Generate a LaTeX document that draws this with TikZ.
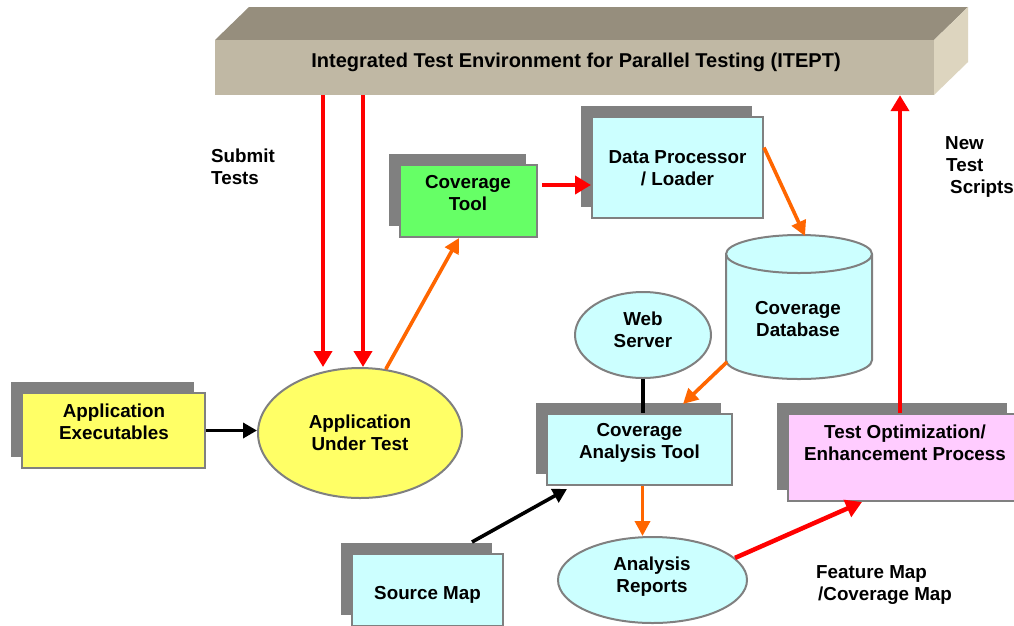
\documentclass[tikz,border=0pt]{standalone}
\usepackage{fontspec}
\setmainfont{Liberation Sans}
\usetikzlibrary{arrows.meta,shapes.geometric,calc}
\definecolor{shadowgray}{HTML}{808080}
\definecolor{bordergray}{HTML}{808080}
\definecolor{yellowfill}{HTML}{FFFF66}
\definecolor{greenfill}{HTML}{66FF66}
\definecolor{cyanfill}{HTML}{CCFFFF}
\definecolor{pinkfill}{HTML}{FFCCFF}
\definecolor{arrred}{HTML}{FF0000}
\definecolor{arrorange}{HTML}{FF6600}
\definecolor{bannertop}{HTML}{968E7D}
\definecolor{bannerfront}{HTML}{C0B8A4}
\definecolor{bannerside}{HTML}{DDD5BF}
\begin{document}
\begin{tikzpicture}[x=1pt,y=-1pt,
  txt/.style={font=\bfseries\fontsize{18.8}{22}\selectfont, align=center, inner sep=0pt},
  box/.style={rectangle, draw=bordergray, line width=2pt, inner sep=0pt,
    preaction={fill=shadowgray, draw=none, transform canvas={xshift=-11pt,yshift=11pt}}},
  ell/.style={ellipse, draw=bordergray, line width=2pt, inner sep=0pt},
  redarr/.style={draw=arrred, line width=4.5pt, -{Triangle[length=16pt,width=18pt]}},
  orarr/.style={draw=arrorange, line width=3.6pt, -{Triangle[length=15pt,width=15pt]}},
  blkarr/.style={draw=black, line width=3.6pt, -{Triangle[length=14pt,width=15pt]}},
  plainline/.style={draw=black, line width=3.4pt}]
\useasboundingbox (0,0) rectangle (1014,625);
\fill[white] (0,0) rectangle (1014,625);

% banner
\fill[bannertop] (215,40) -- (249,7) -- (968,7) -- (934,40) -- cycle;
\fill[bannerside] (934,40) -- (968,7) -- (968,62) -- (934,95) -- cycle;
\node[rectangle, fill=bannerfront, minimum width=719, minimum height=55, inner sep=0pt] (itept) at (574.5,67.5) {};

% boxes
\node[box, fill=yellowfill, minimum width=183, minimum height=75] (ae) at (113.5,430.5) {};
\node[box, fill=greenfill, minimum width=137, minimum height=72] (ct) at (468.5,201) {};
\node[box, fill=cyanfill, minimum width=171, minimum height=101] (dp) at (677.5,167.5) {};
\node[box, fill=cyanfill, minimum width=185, minimum height=71] (cat) at (639.5,449.5) {};
\node[box, fill=pinkfill, minimum width=230, minimum height=87] (topt) at (903,457.5) {};
\node[box, fill=cyanfill, minimum width=151, minimum height=72] (sm) at (427.5,590) {};

% ellipses
\node[ell, fill=yellowfill, minimum width=204, minimum height=130] (aut) at (360,433) {};
\node[ell, fill=cyanfill, minimum width=136, minimum height=86] (ws) at (643,335) {};
\node[ell, fill=cyanfill, minimum width=189, minimum height=86] (ar) at (652.5,580) {};

% cylinder
\path[fill=cyanfill, draw=bordergray, line width=2pt]
  (726,254) -- (726,360) arc[start angle=180, end angle=0, x radius=73, y radius=19]
  -- (872,254) arc[start angle=0, end angle=-180, x radius=73, y radius=19] -- cycle;
\draw[bordergray, line width=2pt] (726,254) arc[start angle=180, end angle=0, x radius=73, y radius=19];
\coordinate (dbtop) at (805,236);
\coordinate (dbleft) at (727,362);

% connectors
\coordinate (s1) at ([xshift=-251.5pt]itept.south);
\coordinate (s2) at ([xshift=-211.5pt]itept.south);
\draw[redarr] (s1) -- (s1 |- aut.north);
\draw[redarr] (s2) -- (s2 |- aut.north);
\draw[blkarr] (ae.east) -- (ae.east -| aut.west);
\draw[orarr] (aut.68) -- ([xshift=-9.5pt]ct.south);
\coordinate (ctdp) at ([xshift=4pt,yshift=16pt]ct.east);
\draw[redarr] (ctdp) -- (ctdp -| dp.west);
\draw[orarr] ([yshift=20pt]dp.east) -- (dbtop);
\draw[plainline] (ws.south) -- (ws.south |- cat.north);
\draw[orarr] (dbleft) -- ([xshift=43.5pt,yshift=9pt]cat.north);
\coordinate (catb) at ([xshift=3pt]cat.south);
\draw[orarr] (catb) -- (catb |- ar.north);
\draw[blkarr] ([xshift=44.5pt,yshift=11pt]sm.north) -- ([xshift=21pt,yshift=-3pt]cat.south west);
\draw[redarr] (ar.15) -- ([xshift=75pt]topt.south west);
\coordinate (tob) at ([xshift=-3pt]topt.north);
\draw[redarr] (tob) -- (tob |- itept.south);

% texts
\node[txt, font=\bfseries\fontsize{20}{24}\selectfont] (itept-t) at (576,62) {Integrated Test Environment for Parallel Testing (ITEPT)};
\node[txt] (ae-t) at (114,422) {Application\\Executables};
\node[txt] (ct-t) at (468,193) {Coverage\\Tool};
\node[txt] (dp-t) at (677.5,168.5) {Data Processor\\/ Loader};
\node[txt] (db-t) at (798,319) {Coverage\\Database};
\node[txt] (ws-t) at (643,329.5) {Web\\Server};
\node[txt] (aut-t) at (360,432.5) {Application\\Under Test};
\node[txt] (cat-t) at (639.5,442.5) {Coverage\\Analysis Tool};
\node[txt] (topt-t) at (905,442.5) {Test Optimization/\\Enhancement Process};
\node[txt] (sm-t) at (427.5,595) {Source Map};
\node[txt] (ar-t) at (652,576.5) {Analysis\\Reports};
\node[txt, align=left, anchor=west] (submit) at (211,166.5) {Submit\\Tests};
\node[txt, align=left, anchor=west] (nts) at (945,167) {New\\\hspace*{1pt}Test\\\hspace*{5pt}Scripts};
\node[txt, align=left, anchor=west] (fm) at (816,585.5) {Feature Map\\\hspace*{2pt}/Coverage Map};
\end{tikzpicture}
\end{document}
